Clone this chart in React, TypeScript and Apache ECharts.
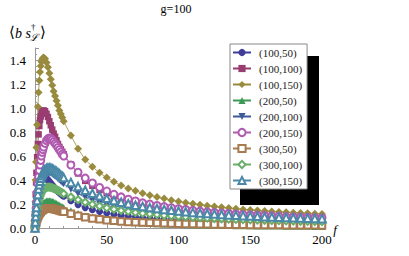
import React, { useEffect, useRef } from "react";
import * as echarts from "echarts";

// f sample points
const fValues = [
  0, 0.25, 0.5, 0.75, 1, 1.5, 2, 2.5, 3, 3.5, 4, 4.5, 5, 5.5, 6,
  7, 8, 9, 10, 11, 12, 13, 14, 15, 16, 17, 18, 19, 20,
  25, 30, 35, 40, 45, 50, 55, 60, 65, 70, 75, 80, 85, 90, 95, 100, 105, 110, 115, 120,
  125, 130, 135, 140, 145, 150, 155, 160, 165, 170, 175, 180, 185, 190, 195, 200,
];

const seriesNames = [
  "(100,50)", "(100,100)", "(100,150)",
  "(200,50)", "(200,100)", "(200,150)",
  "(300,50)", "(300,100)", "(300,150)",
];

const v100_50 = [
  0, 0.07, 0.12, 0.17, 0.2, 0.26, 0.31, 0.345, 0.37, 0.39, 0.405, 0.415, 0.422, 0.426, 0.428,
  0.424, 0.415, 0.402, 0.388, 0.373, 0.358, 0.343, 0.33, 0.317, 0.305, 0.294, 0.284, 0.274, 0.265,
  0.228, 0.195, 0.17, 0.152, 0.137, 0.125, 0.114, 0.105, 0.098, 0.092, 0.086, 0.081, 0.077, 0.073, 0.069, 0.066, 0.063, 0.06, 0.058, 0.055,
  0.053, 0.051, 0.049, 0.048, 0.046, 0.045, 0.043, 0.042, 0.041, 0.04, 0.039, 0.038, 0.037, 0.036, 0.035, 0.034,
];
const v100_100 = [
  0, 0.15, 0.28, 0.38, 0.46, 0.59, 0.7, 0.78, 0.85, 0.9, 0.93, 0.955, 0.97, 0.977, 0.98,
  0.973, 0.952, 0.925, 0.89, 0.856, 0.82, 0.787, 0.76, 0.73, 0.7, 0.676, 0.655, 0.635, 0.614,
  0.53, 0.455, 0.393, 0.352, 0.317, 0.29, 0.266, 0.245, 0.228, 0.214, 0.2, 0.188, 0.178, 0.169, 0.16, 0.152, 0.146, 0.139, 0.134, 0.128,
  0.124, 0.119, 0.115, 0.11, 0.107, 0.104, 0.101, 0.098, 0.095, 0.092, 0.09, 0.088, 0.086, 0.084, 0.082, 0.08,
];
const v100_150 = [
  0, 0.22, 0.4, 0.55, 0.67, 0.86, 1.01, 1.13, 1.23, 1.3, 1.35, 1.385, 1.405, 1.415, 1.42,
  1.41, 1.38, 1.34, 1.29, 1.24, 1.19, 1.14, 1.1, 1.06, 1.02, 0.98, 0.95, 0.92, 0.89,
  0.77, 0.66, 0.57, 0.51, 0.46, 0.42, 0.385, 0.355, 0.33, 0.31, 0.29, 0.273, 0.258, 0.245, 0.232, 0.221, 0.211, 0.202, 0.194, 0.186,
  0.179, 0.172, 0.166, 0.16, 0.155, 0.15, 0.146, 0.142, 0.138, 0.134, 0.131, 0.128, 0.125, 0.122, 0.119, 0.116,
];
const v200_50 = [
  0, 0.02, 0.037, 0.053, 0.067, 0.092, 0.114, 0.133, 0.15, 0.164, 0.176, 0.187, 0.196, 0.204, 0.21,
  0.219, 0.225, 0.228, 0.228, 0.226, 0.222, 0.216, 0.21, 0.204, 0.197, 0.19, 0.183, 0.177, 0.171,
  0.143, 0.12, 0.101, 0.087, 0.076, 0.067, 0.06, 0.054, 0.049, 0.045, 0.041, 0.038, 0.035, 0.033, 0.031, 0.029, 0.027, 0.026, 0.025, 0.023,
  0.022, 0.021, 0.02, 0.019, 0.019, 0.018, 0.017, 0.017, 0.016, 0.016, 0.015, 0.015, 0.014, 0.014, 0.013, 0.013,
];
const v200_100 = [
  0, 0.037, 0.069, 0.101, 0.129, 0.179, 0.225, 0.262, 0.294, 0.322, 0.345, 0.368, 0.386, 0.4, 0.414,
  0.432, 0.446, 0.455, 0.46, 0.458, 0.451, 0.442, 0.432, 0.423, 0.412, 0.4, 0.389, 0.377, 0.368,
  0.322, 0.285, 0.255, 0.23, 0.207, 0.189, 0.173, 0.159, 0.147, 0.138, 0.129, 0.122, 0.115, 0.109, 0.104, 0.099, 0.094, 0.09, 0.086, 0.083,
  0.08, 0.077, 0.074, 0.072, 0.069, 0.067, 0.065, 0.063, 0.062, 0.06, 0.058, 0.057, 0.056, 0.054, 0.053, 0.052,
];
const v200_150 = [
  0, 0.06, 0.113, 0.165, 0.21, 0.293, 0.368, 0.428, 0.48, 0.525, 0.563, 0.6, 0.63, 0.653, 0.675,
  0.705, 0.728, 0.743, 0.75, 0.746, 0.735, 0.72, 0.705, 0.69, 0.671, 0.653, 0.634, 0.615, 0.6,
  0.525, 0.465, 0.416, 0.375, 0.338, 0.308, 0.281, 0.259, 0.24, 0.225, 0.21, 0.199, 0.188, 0.178, 0.169, 0.161, 0.154, 0.147, 0.141, 0.135,
  0.13, 0.125, 0.121, 0.117, 0.113, 0.11, 0.107, 0.104, 0.101, 0.098, 0.095, 0.093, 0.091, 0.089, 0.086, 0.085,
];
const v300_50 = [
  0, 0.017, 0.031, 0.045, 0.056, 0.076, 0.092, 0.106, 0.118, 0.128, 0.136, 0.143, 0.148, 0.153, 0.156,
  0.161, 0.164, 0.165, 0.165, 0.164, 0.162, 0.159, 0.156, 0.153, 0.15, 0.146, 0.142, 0.139, 0.135,
  0.118, 0.103, 0.09, 0.08, 0.072, 0.065, 0.06, 0.055, 0.051, 0.048, 0.045, 0.043, 0.041, 0.039, 0.037, 0.036, 0.034, 0.033, 0.032, 0.031,
  0.03, 0.029, 0.028, 0.027, 0.027, 0.026, 0.025, 0.025, 0.024, 0.024, 0.023, 0.023, 0.022, 0.022, 0.022, 0.021,
];
const v300_100 = [
  0, 0.034, 0.065, 0.092, 0.116, 0.156, 0.19, 0.221, 0.245, 0.265, 0.282, 0.296, 0.306, 0.316, 0.323,
  0.332, 0.337, 0.34, 0.34, 0.338, 0.335, 0.33, 0.325, 0.32, 0.313, 0.306, 0.299, 0.292, 0.286,
  0.258, 0.235, 0.214, 0.197, 0.182, 0.168, 0.156, 0.146, 0.138, 0.129, 0.122, 0.116, 0.111, 0.105, 0.101, 0.096, 0.092, 0.088, 0.085, 0.082,
  0.079, 0.077, 0.074, 0.072, 0.07, 0.068, 0.066, 0.064, 0.062, 0.061, 0.059, 0.058, 0.056, 0.055, 0.054, 0.053,
];
const v300_150 = [
  0, 0.05, 0.095, 0.135, 0.17, 0.23, 0.28, 0.325, 0.36, 0.39, 0.415, 0.435, 0.45, 0.465, 0.475,
  0.488, 0.495, 0.5, 0.5, 0.498, 0.493, 0.485, 0.478, 0.47, 0.46, 0.45, 0.44, 0.43, 0.42,
  0.38, 0.345, 0.315, 0.29, 0.268, 0.248, 0.23, 0.215, 0.203, 0.19, 0.18, 0.17, 0.163, 0.155, 0.148, 0.142, 0.136, 0.13, 0.125, 0.121,
  0.117, 0.113, 0.109, 0.106, 0.103, 0.1, 0.097, 0.094, 0.092, 0.09, 0.087, 0.085, 0.083, 0.082, 0.08, 0.078,
];

const seriesValues = [
  v100_50, v100_100, v100_150,
  v200_50, v200_100, v200_150,
  v300_50, v300_100, v300_150,
];

const colors = [
  "#3f3d99", "#993d71", "#998b3d",
  "#3d9956", "#3d5a99", "#b05ab0",
  "#a87a50", "#6aae6a", "#4a88a8",
];
const symbols = [
  "circle", "rect", "diamond",
  "triangle", "triangle", "emptyCircle",
  "emptyRect", "emptyDiamond", "emptyTriangle",
];
const symbolRotations = [0, 0, 0, 0, 180, 0, 0, 0, 0];
const symbolSizes = [7, 6.5, 8, 7, 7, 7, 6.5, 7, 7.5];

const SERIF = "Liberation Serif";

export default function App() {
  const ref = useRef<HTMLDivElement>(null);

  useEffect(() => {
    const chart = echarts.init(ref.current!, null, { renderer: "svg" });

    const series = seriesNames.map((name, k) => ({
      type: "line",
      name,
      data: fValues.map((f, i) => [f, seriesValues[k][i]]),
      symbol: symbols[k],
      symbolSize: symbolSizes[k],
      symbolRotate: symbolRotations[k],
      showSymbol: true,
      showAllSymbol: true,
      lineStyle: { width: 0.8, color: colors[k] },
      itemStyle: {
        color: colors[k],
        borderColor: colors[k],
        borderWidth: symbols[k].startsWith("empty") ? 1 : 0,
      },
      emphasis: { disabled: true },
      z: 2,
    }));

    chart.setOption({
      animation: false,
      grid: { left: 35, right: 87, top: 48, bottom: 28, containLabel: false },
      xAxis: {
        type: "value",
        min: 0,
        max: 200,
        interval: 50,
        axisLine: { show: true, onZero: true, lineStyle: { color: "#999", width: 1 } },
        axisTick: { show: true, inside: true, length: 4, lineStyle: { color: "#999" } },
        minorTick: { show: true, splitNumber: 5, length: 2, lineStyle: { color: "#999" } },
        splitLine: { show: false },
        axisLabel: { color: "#000", fontFamily: SERIF, fontSize: 13, margin: 5 },
      },
      yAxis: {
        type: "value",
        min: 0,
        max: 1.5,
        interval: 0.2,
        axisLine: { show: true, onZero: true, lineStyle: { color: "#999", width: 1 } },
        axisTick: { show: true, inside: true, length: 4, lineStyle: { color: "#999" } },
        minorTick: { show: true, splitNumber: 4, length: 2, lineStyle: { color: "#999" } },
        splitLine: { show: false },
        axisLabel: {
          color: "#000",
          fontFamily: SERIF,
          fontSize: 13,
          margin: 9,
          showMaxLabel: false,
          formatter: (v: number) => v.toFixed(1),
        },
      },
      legend: {
        orient: "vertical",
        left: 230,
        top: 44,
        padding: [3, 5, 3, 2],
        itemWidth: 18,
        itemHeight: 9,
        itemGap: 5,
        backgroundColor: "#fff",
        borderColor: "#888",
        borderWidth: 1,
        z: 10,
        textStyle: { fontFamily: SERIF, fontSize: 11, color: "#222", padding: [0, 0, 0, 3] },
        data: seriesNames,
      },
      graphic: [
        {
          type: "rect",
          z: 5,
          shape: { x: 240, y: 56, width: 79, height: 149 },
          style: { fill: "#000" },
        },
        {
          type: "text",
          x: 176,
          y: 9,
          style: { text: "g=100", font: `12px ${SERIF}`, fill: "#000", align: "center", verticalAlign: "middle" },
        },
        {
          type: "text",
          x: 9,
          y: 32,
          style: { text: "⟨", font: `15px "DejaVu Serif"`, fill: "#000", align: "left", verticalAlign: "middle" },
        },
        {
          type: "text",
          x: 15,
          y: 33,
          style: { text: "b s", font: `italic 14px ${SERIF}`, fill: "#000", align: "left", verticalAlign: "middle" },
        },
        {
          type: "text",
          x: 31,
          y: 27,
          style: { text: "†", font: `9px ${SERIF}`, fill: "#000", align: "left", verticalAlign: "middle" },
        },
        {
          type: "text",
          x: 30,
          y: 37,
          style: { text: "ℒ", font: `italic 10px "DejaVu Serif"`, fill: "#000", align: "left", verticalAlign: "middle" },
        },
        {
          type: "text",
          x: 40,
          y: 32,
          style: { text: "⟩", font: `15px "DejaVu Serif"`, fill: "#000", align: "left", verticalAlign: "middle" },
        },
        {
          type: "text",
          x: 335,
          y: 229,
          style: { text: "f", font: `italic 13px ${SERIF}`, fill: "#000", align: "center", verticalAlign: "middle" },
        },
      ],
      series,
    });

    return () => chart.dispose();
  }, []);

  return (
    <div
      ref={ref}
      style={{ position: "fixed", left: 0, top: 0, width: 409, height: 256, background: "#fff" }}
    />
  );
}
